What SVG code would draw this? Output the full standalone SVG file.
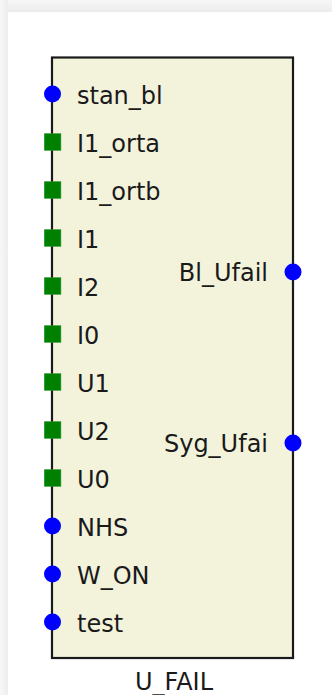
<svg xmlns="http://www.w3.org/2000/svg" width="332" height="695" viewBox="0 0 332 695">
<style>
.lbl{font-family:"DejaVu Sans","Verdana",sans-serif;font-size:24px;fill:#1a1a1a}
.end{text-anchor:end}
.mid{text-anchor:middle}
.pc{fill:#0000ff}
.ps{fill:#008000;stroke:#2e9a2e;stroke-width:0.6}
.body{fill:#f3f3dc;stroke:#1a1a1a;stroke-width:2.2}
</style>
<defs>
<linearGradient id="gt" x1="0" y1="0" x2="0" y2="1"><stop offset="0" stop-color="#f7f7f7"/><stop offset="1" stop-color="#ececec"/></linearGradient>
<linearGradient id="gl" x1="0" y1="0" x2="1" y2="0"><stop offset="0" stop-color="#f7f7f7"/><stop offset="1" stop-color="#ededed"/></linearGradient>
</defs>
<rect x="0" y="0" width="332" height="695" fill="#ffffff"/>
<rect x="0" y="0" width="332" height="12" fill="url(#gt)"/>
<rect x="0" y="0" width="8" height="695" fill="url(#gl)"/>
<g id="connectors"></g>
<g id="U_FAIL">
<rect class="body" x="52" y="57.5" width="241" height="600.5"/>
<text class="lbl mid" x="174" y="690">U_FAIL</text>
</g>
<g id="port_stan_bl"><circle class="pc" cx="52.5" cy="94" r="8.5"/><text class="lbl" x="77" y="104">stan_bl</text></g>
<g id="port_I1_orta"><rect class="ps" x="44.3" y="133.7" width="16.6" height="16.6"/><text class="lbl" x="77" y="152">I1_orta</text></g>
<g id="port_I1_ortb"><rect class="ps" x="44.3" y="181.7" width="16.6" height="16.6"/><text class="lbl" x="77" y="200">I1_ortb</text></g>
<g id="port_I1"><rect class="ps" x="44.3" y="229.7" width="16.6" height="16.6"/><text class="lbl" x="77" y="248">I1</text></g>
<g id="port_I2"><rect class="ps" x="44.3" y="277.7" width="16.6" height="16.6"/><text class="lbl" x="77" y="296">I2</text></g>
<g id="port_I0"><rect class="ps" x="44.3" y="325.7" width="16.6" height="16.6"/><text class="lbl" x="77" y="344">I0</text></g>
<g id="port_U1"><rect class="ps" x="44.3" y="373.7" width="16.6" height="16.6"/><text class="lbl" x="77" y="392">U1</text></g>
<g id="port_U2"><rect class="ps" x="44.3" y="421.7" width="16.6" height="16.6"/><text class="lbl" x="77" y="440">U2</text></g>
<g id="port_U0"><rect class="ps" x="44.3" y="469.7" width="16.6" height="16.6"/><text class="lbl" x="77" y="488">U0</text></g>
<g id="port_NHS"><circle class="pc" cx="52.5" cy="526" r="8.5"/><text class="lbl" x="77" y="536">NHS</text></g>
<g id="port_W_ON"><circle class="pc" cx="52.5" cy="574" r="8.5"/><text class="lbl" x="77" y="584">W_ON</text></g>
<g id="port_test"><circle class="pc" cx="52.5" cy="622" r="8.5"/><text class="lbl" x="77" y="632">test</text></g>
<g id="port_Bl_Ufail"><circle class="pc" cx="293" cy="272" r="8.5"/><text class="lbl end" x="268" y="281">Bl_Ufail</text></g>
<g id="port_Syg_Ufai"><circle class="pc" cx="293" cy="443" r="8.5"/><text class="lbl end" x="268" y="452">Syg_Ufai</text></g>
</svg>
